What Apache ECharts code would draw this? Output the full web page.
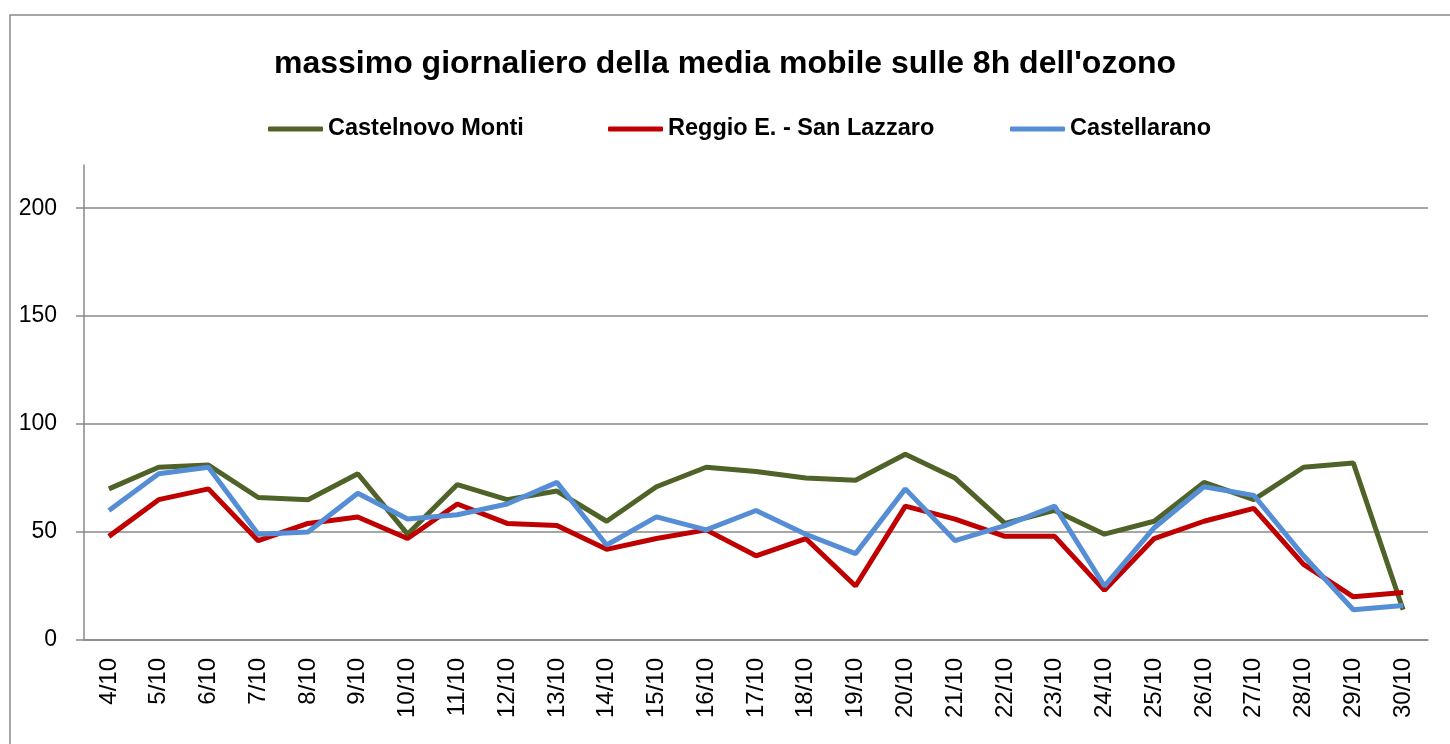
<!DOCTYPE html>
<html>
<head>
<meta charset="utf-8">
<script src="https://cdn.jsdelivr.net/npm/echarts@6/dist/echarts.min.js"></script>
<style>
  html, body { margin: 0; padding: 0; background: #fff; }
  #chart { width: 1450px; height: 744px; }
</style>
</head>
<body>
<div id="chart"></div>
<script>
const days = [
  '4/10', '5/10', '6/10', '7/10', '8/10', '9/10', '10/10', '11/10', '12/10',
  '13/10', '14/10', '15/10', '16/10', '17/10', '18/10', '19/10', '20/10',
  '21/10', '22/10', '23/10', '24/10', '25/10', '26/10', '27/10', '28/10',
  '29/10', '30/10'
]

const castelnovoMonti = [70, 80, 81, 66, 65, 77, 49, 72, 65, 69, 55, 71, 80, 78, 75, 74, 86, 75, 54, 60, 49, 55, 73, 65, 80, 82, 14]
const reggioSanLazzaro = [48, 65, 70, 46, 54, 57, 47, 63, 54, 53, 42, 47, 51, 39, 47, 25, 62, 56, 48, 48, 23, 47, 55, 61, 35, 20, 22]
const castellarano = [60, 77, 80, 49, 50, 68, 56, 58, 63, 73, 44, 57, 51, 60, 49, 40, 70, 46, 53, 62, 25, 52, 71, 67, 39, 14, 16]

const seriesNames = ['Castelnovo Monti', 'Reggio E. - San Lazzaro', 'Castellarano']
const seriesColors = ['#4f6228', '#c00000', '#558ed5']

const chart = echarts.init(document.getElementById('chart'))

// one legend per series so each item sits where the original puts it
const legendLeft = [263, 603, 1005]

const makeLegend = (i) => ({
  left: legendLeft[i],
  top: 112,
  icon: 'roundRect',
  itemWidth: 55,
  itemHeight: 5,
  data: [seriesNames[i]],
  textStyle: {
    color: '#000',
    fontFamily: 'Liberation Sans',
    fontWeight: 'bold',
    fontSize: 23.5
  }
})

const makeSeries = (i, data) => ({
  name: seriesNames[i],
  type: 'line',
  data: data,
  symbol: 'none',
  lineStyle: { width: 5, color: seriesColors[i] },
  itemStyle: { color: seriesColors[i] }
})

chart.setOption({
  backgroundColor: '#fff',
  animation: false,

  graphic: [{
    type: 'rect',
    shape: { x: 10, y: 15, width: 1460, height: 760 },
    style: { fill: 'none', stroke: '#898989', lineWidth: 1.5 }
  }],

  title: {
    text: "massimo giornaliero della media mobile sulle 8h dell'ozono",
    left: 'center',
    top: 43,
    textStyle: {
      color: '#000',
      fontFamily: 'Liberation Sans',
      fontWeight: 'bold',
      fontSize: 32
    }
  },

  legend: [makeLegend(0), makeLegend(1), makeLegend(2)],

  grid: {
    left: 84,
    right: 22,
    top: 165,
    bottom: 104
  },

  xAxis: {
    type: 'category',
    data: days,
    axisLine: { lineStyle: { color: '#898989', width: 1.5 } },
    axisTick: { length: 8, lineStyle: { color: '#898989', width: 1.5 } },
    axisLabel: {
      rotate: 90,
      margin: 18,
      color: '#000',
      fontFamily: 'Liberation Sans',
      fontSize: 24
    }
  },

  yAxis: {
    type: 'value',
    min: 0,
    max: 220,
    interval: 50,
    axisLine: { show: true, lineStyle: { color: '#898989', width: 1.5 } },
    axisTick: { show: true, length: 8, lineStyle: { color: '#898989', width: 1.5 } },
    axisLabel: {
      showMaxLabel: false,
      margin: 27,
      color: '#000',
      fontFamily: 'Liberation Sans',
      fontSize: 23
    },
    splitLine: {
      lineStyle: {
        color: ['#898989', '#898989', '#898989', '#898989', '#898989', 'rgba(0,0,0,0)'],
        width: 1.5
      }
    }
  },

  series: [
    makeSeries(0, castelnovoMonti),
    makeSeries(1, reggioSanLazzaro),
    makeSeries(2, castellarano)
  ]
})
</script>
</body>
</html>
